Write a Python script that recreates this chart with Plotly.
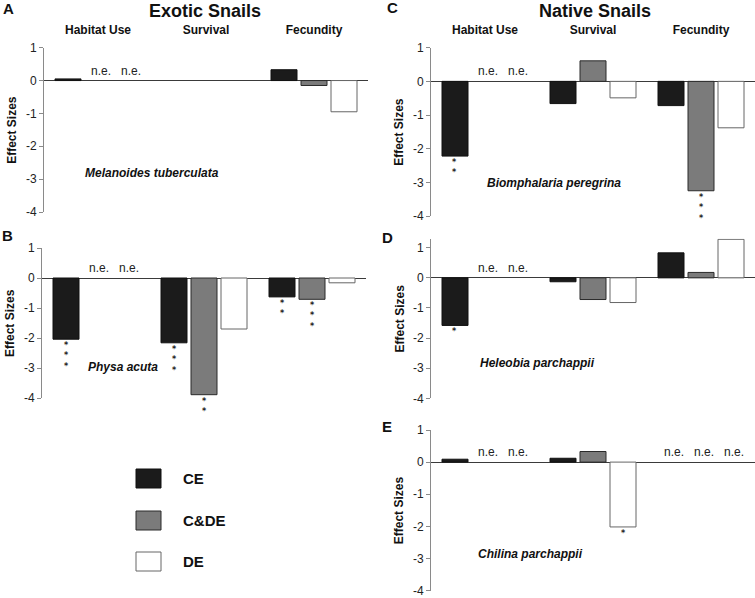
import plotly.graph_objects as go

W, H = 755, 598

CATEGORIES = ["Habitat Use", "Survival", "Fecundity"]
SERIES = ["CE", "C&DE", "DE"]
SERIES_FILL = {"CE": "#1b1b1b", "C&DE": "#7b7b7b", "DE": "#ffffff"}
SERIES_LINE = {"CE": "#111111", "C&DE": "#2b2b2b", "DE": "#666666"}
TICK_VALUES = [1, 0, -1, -2, -3, -4]
TICK_LABELS = ["1", "0", "-1", "-2", "-3", "-4"]

# Panel A - Melanoides tuberculata (exotic)
A_CE = [0.05, None, 0.33]
A_CDE = [None, None, -0.15]
A_DE = [None, None, -0.95]
A_NE = [("Habitat Use", "C&DE"), ("Habitat Use", "DE")]
A_STARS = []

# Panel B - Physa acuta (exotic)
B_CE = [-2.04, -2.16, -0.63]
B_CDE = [None, -3.89, -0.71]
B_DE = [None, -1.70, -0.16]
B_NE = [("Habitat Use", "C&DE"), ("Habitat Use", "DE")]
B_STARS = [("Habitat Use", "CE", 3), ("Survival", "CE", 3), ("Survival", "C&DE", 2),
           ("Fecundity", "CE", 2), ("Fecundity", "C&DE", 3)]

# Panel C - Biomphalaria peregrina (native)
C_CE = [-2.22, -0.66, -0.72]
C_CDE = [None, 0.61, -3.25]
C_DE = [None, -0.49, -1.38]
C_NE = [("Habitat Use", "C&DE"), ("Habitat Use", "DE")]
C_STARS = [("Habitat Use", "CE", 2), ("Fecundity", "C&DE", 3)]

# Panel D - Heleobia parchappii (native)
D_CE = [-1.58, -0.13, 0.83]
D_CDE = [None, -0.72, 0.18]
D_DE = [None, -0.82, 1.28]
D_NE = [("Habitat Use", "C&DE"), ("Habitat Use", "DE")]
D_STARS = [("Habitat Use", "CE", 1)]

# Panel E - Chilina parchappii (native)
E_CE = [0.09, 0.12, None]
E_CDE = [None, 0.33, None]
E_DE = [None, -2.02, None]
E_NE = [("Habitat Use", "C&DE"), ("Habitat Use", "DE"),
        ("Fecundity", "CE"), ("Fecundity", "C&DE"), ("Fecundity", "DE")]
E_STARS = [("Survival", "DE", 1)]

SPECIES = ["Melanoides tuberculata", "Physa acuta", "Biomphalaria peregrina",
           "Heleobia parchappii", "Chilina parchappii"]
LETTERS = ["A", "B", "C", "D", "E"]
GROUP_TITLES = ["Exotic Snails", "Native Snails"]

FONT = "Liberation Sans, Arial, sans-serif"

# layout geometry (pixels): x-left, x-right, y-top, y-bottom, y-range
PANELS = [
    dict(vals=(A_CE, A_CDE, A_DE), ne=A_NE, stars=A_STARS, px=(44, 368), py=(47.7, 212), yr=(-4, 1),
         top=True, sp=(0.12, 0.237), letter=(8, 9)),
    dict(vals=(B_CE, B_CDE, B_DE), ne=B_NE, stars=B_STARS, px=(42, 366), py=(248, 398), yr=(-4, 1),
         top=False, sp=(0.136, 0.209), letter=(7, 236)),
    dict(vals=(C_CE, C_CDE, C_DE), ne=C_NE, stars=C_STARS, px=(431, 755), py=(47.7, 216), yr=(-4, 1),
         top=True, sp=(0.167, 0.196), letter=(392, 8)),
    dict(vals=(D_CE, D_CDE, D_DE), ne=D_NE, stars=D_STARS, px=(431, 755), py=(238.7, 398.3), yr=(-4, 1.3),
         top=False, sp=(0.145, 0.221), letter=(387, 237)),
    dict(vals=(E_CE, E_CDE, E_DE), ne=E_NE, stars=E_STARS, px=(431, 755), py=(430, 590.5), yr=(-4, 1),
         top=False, sp=(0.139, 0.230), letter=(387, 426)),
]

SLOT = 30  # pixel pitch of bars inside a group
OFFS = {"CE": -SLOT, "C&DE": 0, "DE": SLOT}

fig = go.Figure()
annotations = []
layout = {}

for i, p in enumerate(PANELS):
    n = "" if i == 0 else str(i + 1)
    xa, ya = "x" + n, "y" + n
    for s, v in zip(SERIES, p["vals"]):
        fig.add_trace(go.Bar(
            x=CATEGORIES, y=v, name=s, xaxis=xa, yaxis=ya, showlegend=False,
            marker=dict(color=SERIES_FILL[s], line=dict(color=SERIES_LINE[s], width=1)),
        ))
    layout["xaxis" + n] = dict(
        domain=[p["px"][0] / W, p["px"][1] / W], anchor=ya, automargin=False,
        type="category", categoryorder="array", categoryarray=CATEGORIES,
        range=[-0.5, 2.5], showgrid=False, zeroline=False, showline=False,
        showticklabels=p["top"], side="top",
        ticks="outside" if p["top"] else "", ticklen=8, tickcolor="rgba(0,0,0,0)",
        tickfont=dict(family=FONT, size=12, color="#111", weight="bold"),
        fixedrange=True,
    )
    layout["yaxis" + n] = dict(
        domain=[1 - p["py"][1] / H, 1 - p["py"][0] / H], anchor=xa, automargin=False,
        range=list(p["yr"]), tickvals=TICK_VALUES, ticktext=TICK_LABELS,
        showgrid=False, zeroline=True, zerolinecolor="#3a3a3a", zerolinewidth=1,
        showline=True, linecolor="#8a8a8a", linewidth=1,
        ticks="outside", ticklen=4, tickcolor="#8a8a8a", ticklabeloverflow="allow",
        tickfont=dict(family=FONT, size=12, color="#222"),
        fixedrange=True,
    )
    # y title
    annotations.append(dict(
        text="<b>Effect Sizes</b>", textangle=-90, xref="paper", yref=ya + " domain",
        x=(p["px"][0] - 32) / W, y=0.5,
        xanchor="center", yanchor="middle", showarrow=False,
        font=dict(family=FONT, size=12, color="#111"),
    ))
    # species
    annotations.append(dict(
        text="<b><i>" + SPECIES[i] + "</i></b>", xref=xa + " domain", yref=ya + " domain",
        x=p["sp"][0], y=p["sp"][1], xanchor="left", yanchor="middle", showarrow=False,
        font=dict(family=FONT, size=12, color="#111"),
    ))
    # panel letter
    annotations.append(dict(
        text="<b>" + LETTERS[i] + "</b>", xref="paper", yref="paper",
        x=p["letter"][0] / W, y=1 - p["letter"][1] / H, xanchor="center", yanchor="middle",
        showarrow=False, font=dict(family=FONT, size=15, color="#111"),
    ))
    # n.e.
    for cat, s in p["ne"]:
        annotations.append(dict(
            text="n.e.", x=cat, y=0, xref=xa, yref=ya, xshift=OFFS[s] + 3, yshift=1,
            xanchor="center", yanchor="bottom", showarrow=False,
            font=dict(family=FONT, size=12, color="#222"),
        ))
    # significance stars (one stacked text per bar)
    for cat, s, k in p["stars"]:
        val = p["vals"][SERIES.index(s)][CATEGORIES.index(cat)]
        annotations.append(dict(
            text="<br>".join(["*"] * k), x=cat, y=val, xref=xa, yref=ya, xshift=OFFS[s],
            yshift=-1, xanchor="center", yanchor="top", showarrow=False, borderpad=0,
            font=dict(family="DejaVu Sans", size=8, color="#222", weight="bold"),
        ))

# group titles
annotations.append(dict(text="<b>" + GROUP_TITLES[0] + "</b>", xref="paper", yref="paper",
                        x=205 / W, y=1 - 11 / H, xanchor="center", yanchor="middle",
                        showarrow=False, font=dict(family=FONT, size=18, color="#111")))
annotations.append(dict(text="<b>" + GROUP_TITLES[1] + "</b>", xref="paper", yref="paper",
                        x=595 / W, y=1 - 11 / H, xanchor="center", yanchor="middle",
                        showarrow=False, font=dict(family=FONT, size=18, color="#111")))

# legend (boxes + labels)
shapes = []
LEG_Y = [469, 511, 552]
for s, y0 in zip(SERIES, LEG_Y):
    shapes.append(dict(type="rect", xref="paper", yref="paper",
                       x0=136 / W, x1=161 / W, y0=1 - (y0 + 19) / H, y1=1 - y0 / H,
                       fillcolor=SERIES_FILL[s], line=dict(color=SERIES_LINE[s], width=1)))
    annotations.append(dict(text="<b>" + s + "</b>", xref="paper", yref="paper",
                            x=181 / W, y=1 - (y0 + 9.5) / H, xanchor="left", yanchor="middle",
                            showarrow=False, font=dict(family=FONT, size=15, color="#111")))

fig.update_layout(
    width=W, height=H, margin=dict(l=0, r=0, t=0, b=0, pad=0, autoexpand=False),
    paper_bgcolor="white", plot_bgcolor="white", showlegend=False,
    barmode="group", bargap=18 / 108, bargroupgap=4 / 30,
    annotations=annotations, shapes=shapes,
    font=dict(family=FONT),
    **layout,
)

fig.write_html("out.html", config={"displayModeBar": False},
               post_script="document.body.style.margin='0px';document.body.style.overflow='hidden';")
